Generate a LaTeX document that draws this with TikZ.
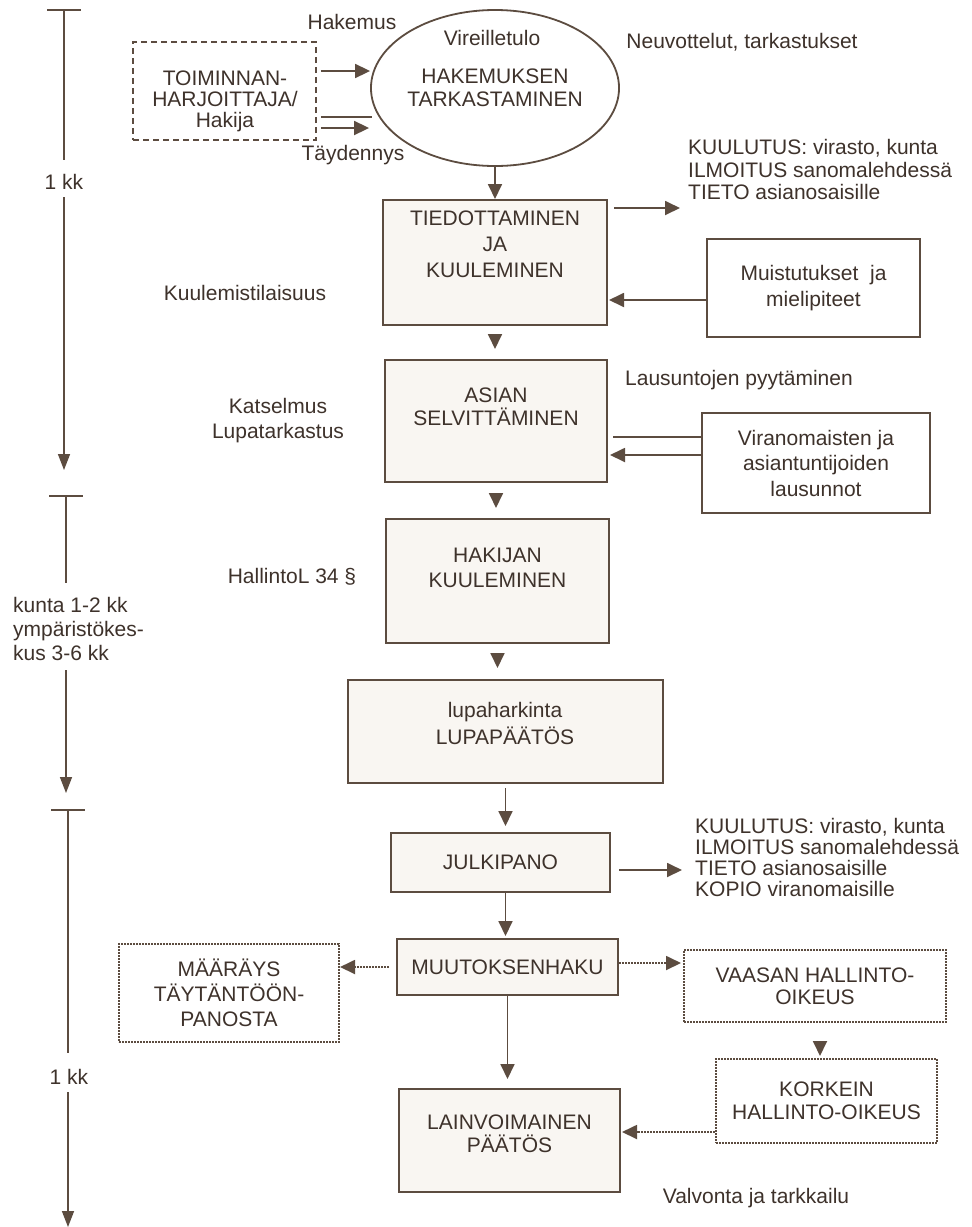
\documentclass[tikz,border=0pt]{standalone}
\usepackage{fontspec}
\setmainfont{Liberation Sans}
\usetikzlibrary{shapes.geometric,arrows.meta}
\definecolor{ink}{RGB}{62,50,43}
\definecolor{ln}{RGB}{92,76,64}
\definecolor{boxfill}{RGB}{249,246,242}
\newcommand{\fs}[1]{\fontsize{21}{#1}\selectfont}
\begin{document}
\begin{tikzpicture}[x=1pt,y=-1pt,
 every node/.style={inner sep=0pt,text=ink,font=\fs{23}},
 lbl/.style={align=center},
 pbox/.style={draw=ln,line width=2pt,fill=boxfill,rectangle,align=center},
 wbox/.style={draw=ln,line width=2pt,fill=white,rectangle,align=center},
 dbox/.style={draw=ln,line width=2pt,dash pattern=on 1.6pt off 1.4pt,rectangle,align=center},
 dashbox/.style={draw=ln,line width=1.8pt,dash pattern=on 6pt off 4pt,rectangle,align=center},
 con/.style={draw=ln,line width=1.8pt},
 arr/.style={con,-{Triangle[length=15pt,width=14pt]}},
 darr/.style={arr,dash pattern=on 1.6pt off 1.4pt},
 tl/.style={draw=ln,line width=1.5pt},
 tlarr/.style={tl,-{Triangle[length=16pt,width=12pt]}}
]
\useasboundingbox (0,0) rectangle (972,1227);
\fill[white] (0,0) rectangle (972,1227);

% ---- top: applicant and application check
\node[dashbox,minimum width=183pt,minimum height=98pt] (toim) at (224.5,91) {};
\node[lbl,font=\fs{21}] (toimT) at (225,101) {TOIMINNAN-\\HARJOITTAJA/\\Hakija};
\node[draw=ln,line width=1.8pt,ellipse,minimum width=240pt,minimum height=156pt,align=center,font=\fs{23}] (ell) at (495,88) {HAKEMUKSEN\\TARKASTAMINEN};
\node (vir) at (492,38) {Vireilletulo};
\node (hak) at (352,22) {Hakemus};
\node (tay) at (353,155) {Täydennys};
\node (neu) at (742,42) {Neuvottelut, tarkastukset};

% ---- main column
\node[pbox,minimum width=224pt,minimum height=125pt] (tied) at (495,262.5) {};
\node[lbl,font=\fs{26}] (tiedT) at (495,244) {TIEDOTTAMINEN\\JA\\KUULEMINEN};
\node[align=left,anchor=west,font=\fs{22.5}] (kuul1) at (688,169.5) {KUULUTUS: virasto, kunta\\ILMOITUS sanomalehdessä\\TIETO asianosaisille};
\node[wbox,minimum width=213pt,minimum height=98pt,font=\fs{26}] (muist) at (813.5,288) {Muistutukset \ ja\\mielipiteet};
\node (kuulem) at (245,293) {Kuulemistilaisuus};

\node[pbox,minimum width=222pt,minimum height=122pt] (asian) at (496,421) {};
\node[lbl] (asianT) at (496,406.5) {ASIAN\\SELVITTÄMINEN};
\node[lbl,font=\fs{25}] (katsel) at (278,420.5) {Katselmus\\Lupatarkastus};
\node (laus) at (739,380) {Lausuntojen pyytäminen};
\node[wbox,minimum width=228pt,minimum height=100pt,font=\fs{25.5}] (viran) at (816,463) {Viranomaisten ja\\asiantuntijoiden\\lausunnot};

\node[pbox,minimum width=223pt,minimum height=124pt] (hakij) at (497.5,581) {};
\node[lbl,font=\fs{25}] (hakijT) at (497.5,567.5) {HAKIJAN\\KUULEMINEN};
\node (hallin) at (292,577) {HallintoL 34 §};

\node[pbox,minimum width=315pt,minimum height=103pt] (lupa) at (505.5,731.5) {};
\node[lbl,font=\fs{27}] (lupaT) at (505,723.5) {lupaharkinta\\LUPAPÄÄTÖS};

\node[pbox,minimum width=219pt,minimum height=59pt] (julki) at (500.5,862.5) {JULKIPANO};
\node[align=left,anchor=west,font=\fs{21}] (kuul2) at (695,857.5) {KUULUTUS: virasto, kunta\\ILMOITUS sanomalehdessä\\TIETO asianosaisille\\KOPIO viranomaisille};

\node[pbox,minimum width=221pt,minimum height=56pt] (muut) at (507.5,967) {MUUTOKSENHAKU};
\node[dbox,minimum width=262pt,minimum height=72pt,font=\fs{22}] (vaasa) at (815,986) {VAASAN HALLINTO-\\OIKEUS};
\node[dbox,minimum width=221pt,minimum height=84pt,font=\fs{23}] (korke) at (826.5,1101) {KORKEIN\\HALLINTO-OIKEUS};
\node[dbox,minimum width=220pt,minimum height=98pt,font=\fs{25}] (maar) at (229,993) {MÄÄRÄYS\\TÄYTÄNTÖÖN-\\PANOSTA};
\node[pbox,minimum width=221pt,minimum height=103pt] (lain) at (509.5,1140.5) {};
\node[lbl] (lainT) at (509.5,1133.5) {LAINVOIMAINEN\\PÄÄTÖS};
\node (valv) at (756,1198) {Valvonta ja tarkkailu};

% ---- connectors top
\coordinate (hA) at ([xshift=4pt,yshift=20pt]toim.east);
\coordinate (tA) at ([xshift=4pt,yshift=-26pt]toim.east);
\coordinate (tB) at ([xshift=4pt,yshift=-37pt]toim.east);
\path (hA -| ell.west) coordinate (hAe) (tA -| ell.west) coordinate (tAe) (tB -| ell.west) coordinate (tBe);
\draw[arr] (hA) -- (hAe);
\draw[con] (tA) -- ([xshift=2pt]tAe);
\draw[arr] (tB) -- ([xshift=-1pt]tBe);
\draw[arr] (ell.south) -- (tied.north);

\coordinate (k1s) at ([xshift=6pt,yshift=-9pt]tied.north east);
\path (k1s -| kuul1.west) coordinate (k1e);
\draw[arr] (k1s) -- ([xshift=-8pt]k1e);

\coordinate (ms) at ([yshift=-12pt]muist.west);
\path (ms -| tied.east) coordinate (me);
\draw[arr] (ms) -- ([xshift=1pt]me);

\draw[arr,shorten <=10pt,shorten >=10pt] (tied.south) -- (tied.south |- asian.north);
\draw[arr,shorten <=12pt,shorten >=10pt] (asian.south) -- (asian.south |- hakij.north);
\draw[arr,shorten <=11pt,shorten >=11pt] (hakij.south) -- (hakij.south |- lupa.north);
\draw[arr,shorten <=4pt,shorten >=6pt] (lupa.south) -- (lupa.south |- julki.north);
\coordinate (jm) at ([xshift=5pt]julki.south);
\path (jm |- muut.north) coordinate (jme);
\draw[arr,shorten >=2pt] (jm) -- (jme);
\draw[arr,shorten >=9pt] (muut.south) -- (muut.south |- lain.north);

\coordinate (vs1) at ([yshift=26pt]viran.west);
\path (vs1 -| asian.east) coordinate (ve1);
\draw[con] (vs1) -- ([xshift=5pt]ve1);
\coordinate (vs2) at ([yshift=8pt]viran.west);
\path (vs2 -| asian.east) coordinate (ve2);
\draw[arr] (vs2) -- ([xshift=2pt]ve2);

\coordinate (js) at ([xshift=8pt,yshift=-7.5pt]julki.east);
\path (js -| kuul2.west) coordinate (jse);
\draw[arr] (js) -- ([xshift=-13pt]jse);

\coordinate (mv) at ([yshift=4pt]muut.east);
\path (mv -| vaasa.west) coordinate (mve);
\draw[darr] (mv) -- ([xshift=-2pt]mve);
\coordinate (mm) at ([xshift=-7pt]muut.west);
\draw[darr] (mm) -- (mm -| maar.east);

\coordinate (vk) at ([xshift=5pt]vaasa.south);
\path (vk |- korke.north) coordinate (vke);
\draw[arr,shorten <=20pt,shorten >=2pt] (vk) -- (vke);

\coordinate (kl) at ([yshift=-31pt]korke.west);
\path (kl -| lain.east) coordinate (kle);
\draw[darr] (kl) -- ([xshift=1pt]kle);

% ---- timeline
\node (kk1) at (64,182) {1 kk};
\node[align=left,anchor=west,font=\fs{24}] (kunta) at (13,629) {kunta 1-2 kk\\ympäristökes-\\kus 3-6 kk};
\node (kk3) at (69,1077) {1 kk};

\coordinate (t1a) at (64,10);
\coordinate (t1b) at (64,160);
\coordinate (t1c) at (64,197);
\coordinate (t1d) at (64,470);
\draw[tl] ([xshift=-17pt]t1a) -- ([xshift=17pt]t1a);
\draw[tl] (t1a) -- (t1b);
\draw[tlarr] (t1c) -- (t1d);

\coordinate (t2a) at (66,496);
\coordinate (t2b) at (66,583);
\coordinate (t2c) at (66,670);
\coordinate (t2d) at (66,793);
\draw[tl] ([xshift=-17pt]t2a) -- ([xshift=17pt]t2a);
\draw[tl] (t2a) -- (t2b);
\draw[tlarr] (t2c) -- (t2d);

\coordinate (t3a) at (68,810);
\coordinate (t3b) at (68,1053);
\coordinate (t3c) at (68,1092);
\coordinate (t3d) at (68,1227);
\draw[tl] ([xshift=-17pt]t3a) -- ([xshift=17pt]t3a);
\draw[tl] (t3a) -- (t3b);
\draw[tlarr] (t3c) -- (t3d);
\end{tikzpicture}
\end{document}
